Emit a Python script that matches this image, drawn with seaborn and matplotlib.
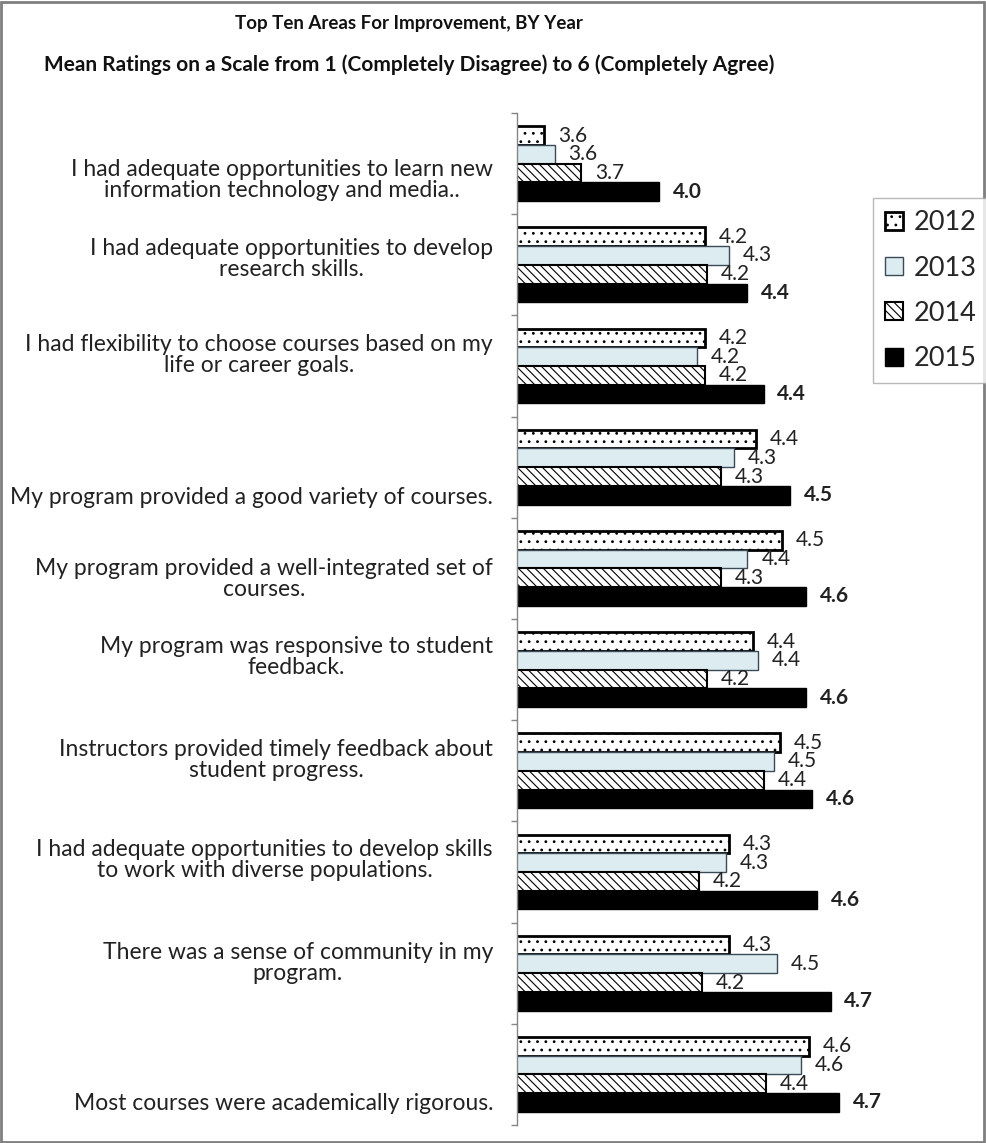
import pandas as pd
import matplotlib
matplotlib.use('Agg')
import matplotlib.pyplot as plt
import seaborn as sns
from matplotlib.patches import Rectangle

# chart data
categories = [
    "I had adequate opportunities to learn new\ninformation technology and media..",
    "I had adequate opportunities to develop\nresearch skills.",
    "I had flexibility to choose courses based on my\nlife or career goals.",
    "My program provided a good variety of courses.",
    "My program provided a well-integrated set of\ncourses.",
    "My program was responsive to student\nfeedback.",
    "Instructors provided timely feedback about\nstudent progress.",
    "I had adequate opportunities to develop skills\nto work with diverse populations.",
    "There was a sense of community in my\nprogram.",
    "Most courses were academically rigorous.",
]
years = ["2012", "2013", "2014", "2015"]
y2012 = [3.60, 4.20, 4.20, 4.39, 4.49, 4.38, 4.48, 4.29, 4.29, 4.59]
y2013 = [3.64, 4.29, 4.17, 4.31, 4.36, 4.40, 4.46, 4.28, 4.47, 4.56]
y2014 = [3.74, 4.21, 4.20, 4.26, 4.26, 4.21, 4.42, 4.18, 4.19, 4.43]
y2015 = [4.03, 4.36, 4.42, 4.52, 4.58, 4.58, 4.60, 4.62, 4.67, 4.70]

# vertical nudge of each category label (fraction of a category row)
label_nudge = [0.16, -0.06, -0.11, 0.30, 0.10, -0.12, -0.11, -0.12, -0.10, 0.29]

rows = []
for yr, vals in zip(years, [y2012, y2013, y2014, y2015]):
    for cat, v in zip(categories, vals):
        rows.append({"category": cat, "year": yr, "rating": v})
df = pd.DataFrame(rows)

sns.set_style("white")
plt.rcParams['font.family'] = ['Lato', 'DejaVu Sans']
plt.rcParams['hatch.linewidth'] = 0.8

fig = plt.figure(figsize=(9.86, 11.43), dpi=100)
ax = fig.add_axes([517 / 986, 1 - 1125 / 1143, 341 / 986, 1012 / 1143])

palette = {"2012": "white", "2013": "#DAEEF3", "2014": "white", "2015": "black"}
sns.barplot(data=df, x="rating", y="category", hue="year", order=categories,
            hue_order=years, palette=palette, orient="h", width=0.74, gap=0,
            errorbar=None, legend=False, ax=ax)

styles = [
    dict(hatch="..", edgecolor="black", linewidth=2.0),
    dict(hatch=None, edgecolor="#3b4a57", linewidth=1.0),
    dict(hatch="\\\\\\\\", edgecolor="black", linewidth=1.5),
    dict(hatch=None, edgecolor="black", linewidth=1.0),
]
for cont, st, vals, yr in zip(ax.containers, styles, [y2012, y2013, y2014, y2015], years):
    for p in cont.patches:
        p.set_edgecolor(st["edgecolor"])
        p.set_linewidth(st["linewidth"])
        if st["hatch"]:
            p.set_hatch(st["hatch"])
    ax.bar_label(cont, labels=[f"{v:.1f}" for v in vals], padding=10,
                 fontsize=15, color="#222222",
                 fontweight="bold" if yr == "2015" else "normal")

ax.set_xlim(3.5, 3.5 + 341 / 268)
ax.set_ylim(9.5, -0.5)
ax.set_xlabel("")
ax.set_ylabel("")
ax.set_xticks([])

# category labels as texts so they can be nudged like in the original
ax.set_yticks(range(len(categories)))
ax.set_yticklabels([])
ax.tick_params(axis="y", which="major", length=0)
ax.set_yticks([i - 0.5 for i in range(len(categories) + 1)], minor=True)
ax.tick_params(axis="y", which="minor", length=4, width=1, color="#868686",
               direction="out", left=True)
for i, (cat, dy) in enumerate(zip(categories, label_nudge)):
    ax.text(-24 / 341, i + dy, cat, transform=ax.get_yaxis_transform(),
            ha="right", va="center", multialignment="center",
            fontsize=16.5, color="#222222", linespacing=1.0)

for s in ["top", "right", "bottom"]:
    ax.spines[s].set_visible(False)
ax.spines["left"].set_color("#868686")
ax.spines["left"].set_linewidth(1)

handles = [c.patches[0] for c in ax.containers]
leg = fig.legend(handles, years, loc="upper left",
                 bbox_to_anchor=(873 / 986, 1 - 198 / 1143),
                 fontsize=19.5, frameon=True, fancybox=False, borderaxespad=0,
                 handlelength=0.65, handleheight=0.65, handletextpad=0.4,
                 labelspacing=0.75, borderpad=0.45)
leg.get_frame().set_edgecolor("#a6a6a6")
leg.get_frame().set_linewidth(1)

fig.text(0.415, 1 - 23 / 1143, "Top Ten Areas For Improvement, BY Year",
         ha="center", va="center", fontsize=13.5, fontweight="bold", color="#111111")
fig.text(0.415, 1 - 65 / 1143,
         "Mean Ratings on a Scale from 1 (Completely Disagree) to 6 (Completely Agree)",
         ha="center", va="center", fontsize=15, fontweight="bold", color="#111111")

fig.add_artist(Rectangle((0.001, 0.001), 0.997, 0.997, transform=fig.transFigure,
                         fill=False, edgecolor="#7f7f7f", linewidth=2))

fig.savefig("out.png", dpi=100)
